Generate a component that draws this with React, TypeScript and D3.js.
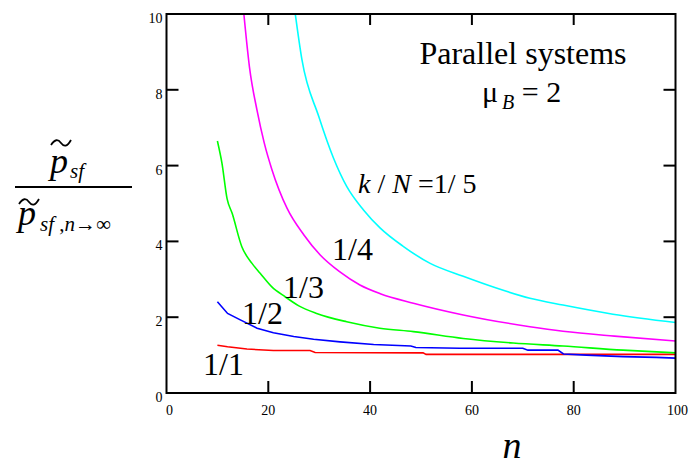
import { useEffect, useRef } from 'react'
import * as d3 from 'd3'

// n values and ratio values, one array per k/N curve
const redPts: [number, number][] = [[10, 1.26], [12, 1.22], [15.8, 1.16], [21, 1.12], [28.2, 1.12], [29.2, 1.07], [50.4, 1.06], [51, 1.02], [100, 1.02]]
const bluePts: [number, number][] = [[10, 2.41], [12, 2.1], [14.5, 1.93], [17.8, 1.71], [21, 1.59], [25, 1.49], [28.9, 1.42], [34.1, 1.35], [40.7, 1.28], [48, 1.24], [49, 1.2], [57.6, 1.18], [70, 1.18], [71, 1.13], [76.9, 1.13], [78, 1.03], [82.5, 1.0], [89.7, 0.96], [96.2, 0.94], [100, 0.92]]
const greenPts: [number, number][] = [[10, 6.65], [10.9, 6.06], [11.9, 5.13], [12.9, 4.74], [14.8, 3.86], [16.8, 3.42], [18.4, 3.16], [20.7, 2.8], [23.3, 2.54], [26, 2.3], [29.5, 2.1], [35.4, 1.88], [41.9, 1.71], [48.5, 1.62], [58.3, 1.44], [68.1, 1.32], [77.9, 1.24], [89.7, 1.13], [100, 1.06]]
const magentaPts: [number, number][] = [[15.2, 10], [16.3, 8.6], [17.8, 7.45], [19.2, 6.6], [20.7, 5.9], [23.7, 4.87], [27, 4.17], [30.2, 3.64], [34, 3.2], [38, 2.85], [42, 2.62], [48.5, 2.37], [58.3, 2.06], [71.4, 1.75], [77.9, 1.63], [88, 1.5], [100, 1.37]]
const cyanPts: [number, number][] = [[25.3, 10], [26.6, 8.8], [29.9, 7.3], [32.8, 6.2], [35.4, 5.45], [38.7, 4.83], [42, 4.35], [46.5, 3.87], [51.8, 3.42], [58.3, 3.08], [64.8, 2.77], [71.4, 2.5], [77.9, 2.32], [87.7, 2.08], [100, 1.86]]

const seriesColors = ['#ff0000', '#0000ff', '#00ff00', '#ff00ff', '#00ffff']
const xTicks = [0, 20, 40, 60, 80, 100]
const yTicks = [0, 2, 4, 6, 8, 10]

const serif = '"Liberation Serif", "Times New Roman", serif'

function App() {
  const svgRef = useRef<SVGSVGElement>(null)

  useEffect(() => {
    const width = 689
    const height = 466
    const svg = d3.select(svgRef.current).attr('width', width).attr('height', height)
    svg.selectAll('*').remove()

    const x = d3.scaleLinear().domain([0, 100]).range([166.5, 675.5])
    const y = d3.scaleLinear().domain([0, 10]).range([393, 14])

    svg.append('clipPath').attr('id', 'plot').append('rect')
      .attr('x', x(0)).attr('y', y(10)).attr('width', x(100) - x(0)).attr('height', y(0) - y(10))

    const stepLine = d3.line<[number, number]>().x(d => x(d[0])).y(d => y(d[1]))
    const smoothLine = d3.line<[number, number]>().x(d => x(d[0])).y(d => y(d[1])).curve(d3.curveMonotoneX)
    const all = [redPts, bluePts, greenPts, magentaPts, cyanPts]
    svg.append('g').attr('clip-path', 'url(#plot)')
      .selectAll('path')
      .data(all)
      .join('path')
      .attr('d', (d, i) => (i < 2 ? stepLine(d) : smoothLine(d)))
      .attr('fill', 'none')
      .attr('stroke', (_, i) => seriesColors[i])
      .attr('stroke-width', 1.6)

    // frame
    const frame = svg.append('g').attr('stroke', '#000').attr('stroke-width', 2).attr('fill', 'none')
    frame.append('rect').attr('x', x(0)).attr('y', y(10)).attr('width', x(100) - x(0)).attr('height', y(0) - y(10))
    const tl = 12
    const inner = xTicks.slice(1, -1)
    inner.forEach(t => {
      frame.append('line').attr('x1', x(t)).attr('x2', x(t)).attr('y1', y(0)).attr('y2', y(0) - tl)
      frame.append('line').attr('x1', x(t)).attr('x2', x(t)).attr('y1', y(10)).attr('y2', y(10) + tl - 1)
    })
    yTicks.slice(1, -1).forEach(t => {
      frame.append('line').attr('x1', x(0)).attr('x2', x(0) + tl).attr('y1', y(t)).attr('y2', y(t))
      frame.append('line').attr('x1', x(100)).attr('x2', x(100) - tl).attr('y1', y(t)).attr('y2', y(t))
    })

    const labels = svg.append('g').attr('font-family', serif).attr('fill', '#000')
    labels.selectAll('text.xt').data(xTicks).join('text')
      .attr('class', 'xt')
      .attr('x', d => x(d) + (d === 0 ? 3 : d === 100 ? 2 : 0))
      .attr('y', y(0) + 22)
      .attr('text-anchor', 'middle')
      .attr('font-size', 14)
      .text(d => d)
    labels.selectAll('text.yt').data(yTicks).join('text')
      .attr('class', 'yt')
      .attr('x', x(0) - 4)
      .attr('y', d => y(d) + 9)
      .attr('text-anchor', 'end')
      .attr('font-size', 14)
      .text(d => d)

    // x axis title
    labels.append('text').attr('x', 512).attr('y', 458).attr('text-anchor', 'middle')
      .attr('font-size', 38).attr('font-style', 'italic').text('n')

    // curve labels
    const big = 32
    labels.append('text').attr('x', 203).attr('y', 375).attr('font-size', big).text('1/1')
    labels.append('text').attr('x', 242).attr('y', 324).attr('font-size', big).text('1/2')
    labels.append('text').attr('x', 283).attr('y', 298).attr('font-size', big).text('1/3')
    labels.append('text').attr('x', 332).attr('y', 260).attr('font-size', big).text('1/4')

    const kn = labels.append('text').attr('x', 358).attr('y', 193).attr('font-size', 28)
    kn.append('tspan').attr('font-style', 'italic').text('k')
    kn.append('tspan').text(' / ')
    kn.append('tspan').attr('font-style', 'italic').text('N')
    kn.append('tspan').text(' =1/ 5')

    labels.append('text').attr('x', 523).attr('y', 64).attr('text-anchor', 'middle')
      .attr('font-size', 32).text('Parallel systems')
    const mu = labels.append('text').attr('x', 482).attr('y', 102).attr('font-size', 30)
    mu.append('tspan').text('\u03bc')
    mu.append('tspan').attr('font-size', 20).attr('font-style', 'italic').attr('dx', 4).attr('dy', 7).text('B')
    mu.append('tspan').attr('dy', -7).text(' = 2')

    // y axis title: fraction
    const yl = svg.append('g').attr('font-family', serif).attr('fill', '#000')
    yl.append('text').attr('x', 50).attr('y', 173).attr('font-size', 36).attr('font-style', 'italic').text('p')
    yl.append('text').attr('x', 70).attr('y', 178).attr('font-size', 21).attr('font-style', 'italic').text('sf')
    yl.append('line').attr('x1', 15).attr('x2', 132).attr('y1', 187).attr('y2', 187).attr('stroke', '#000').attr('stroke-width', 2)
    yl.append('text').attr('x', 18).attr('y', 225).attr('font-size', 36).attr('font-style', 'italic').text('p')
    const den = yl.append('text').attr('x', 40).attr('y', 231).attr('font-size', 21)
    den.append('tspan').attr('font-style', 'italic').text('sf')
    den.append('tspan').text(' ,')
    den.append('tspan').attr('font-style', 'italic').text('n')
    den.append('tspan').text('\u2192\u221e')

    const tilde = (x0: number, y0: number, w: number) =>
      `M${x0},${y0 + 2} C${x0 + w * 0.2},${y0 - 4} ${x0 + w * 0.35},${y0 - 4} ${x0 + w * 0.5},${y0} S${x0 + w * 0.8},${y0 + 4} ${x0 + w},${y0 - 3}`
    yl.append('path').attr('d', tilde(51, 143, 20)).attr('fill', 'none').attr('stroke', '#000').attr('stroke-width', 1.8)
    yl.append('path').attr('d', tilde(19, 202, 20)).attr('fill', 'none').attr('stroke', '#000').attr('stroke-width', 1.8)
  }, [])

  return (
    <div style={{ position: 'absolute', left: 0, top: 0 }}>
      <svg ref={svgRef}></svg>
    </div>
  )
}

export default App
